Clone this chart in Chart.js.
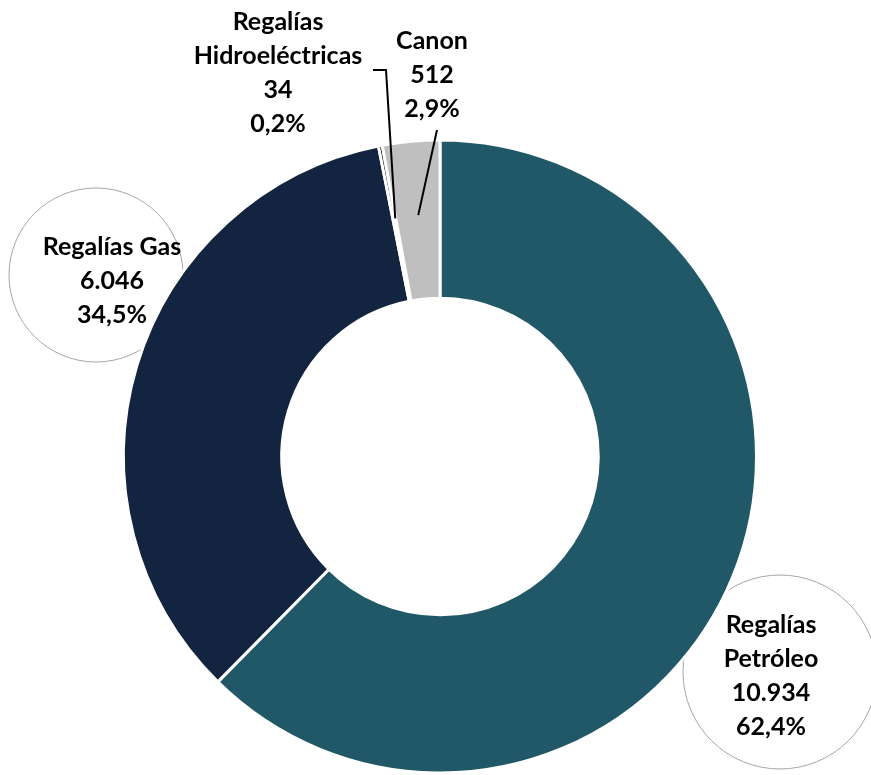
<!DOCTYPE html>
<html>
<head>
<meta charset="utf-8">
<script src="https://cdn.jsdelivr.net/npm/chart.js@4"></script>
<style>
	html, body { margin: 0; padding: 0; background: #fff; }
	#wrap { width: 871px; height: 775px; }
</style>
</head>
<body>
<div id="wrap"><canvas id="chart" width="871" height="775"></canvas></div>
<script>
// Data
const categories = ['Regalías Petróleo', 'Regalías Gas', 'Regalías Hidroeléctricas', 'Canon']
const values = [10934, 6046, 34, 512]
const colors = ['#215868', '#12243f', '#000000', '#bfbfbf']

// label text lines (category name split as in the picture)
const nameLines = [['Regalías', 'Petróleo'], ['Regalías Gas'], ['Regalías', 'Hidroeléctricas'], ['Canon']]

const total = values.reduce((a, b) => a + b, 0)
const fmtNum = (v) => v.toLocaleString('es-CO')
const fmtPct = (v) => (v / total * 100).toFixed(1).replace('.', ',') + '%'

// label boxes: text anchor, optional circle, optional leader line
const labelLayout = [
	{ x: 771, y: 625, circle: { x: 780, y: 672, r: 97 } },
	{ x: 112, y: 247, circle: { x: 96, y: 275, r: 87 } },
	{ x: 278, y: 22, leader: [[373, 70], [386, 70]] },
	{ x: 432, y: 41, leader: [[437, 130]] },
]

const FONT = 'bold 25px Lato'
const LINE_H = 34

const labelPlugin = {
	id: 'labelPlugin',
	beforeDatasetsDraw(chart) {
		const ctx = chart.ctx
		ctx.save()
		ctx.strokeStyle = '#a6a6a6'
		ctx.lineWidth = 1
		labelLayout.forEach((l) => {
			if (!l.circle) return
			ctx.beginPath()
			ctx.arc(l.circle.x, l.circle.y, l.circle.r, 0, Math.PI * 2)
			ctx.stroke()
		})
		ctx.restore()
	},
	afterDatasetsDraw(chart) {
		const ctx = chart.ctx
		const arcs = chart.getDatasetMeta(0).data
		ctx.save()
		ctx.font = FONT
		ctx.fillStyle = '#000'
		ctx.textAlign = 'center'
		ctx.textBaseline = 'middle'
		labelLayout.forEach((l, i) => {
			const lines = nameLines[i].concat([fmtNum(values[i]), fmtPct(values[i])])
			lines.forEach((t, k) => ctx.fillText(t, l.x, l.y + k * LINE_H))
			if (l.leader) {
				const p = arcs[i].getCenterPoint()
				ctx.strokeStyle = '#000'
				ctx.lineWidth = 2
				ctx.beginPath()
				ctx.moveTo(l.leader[0][0], l.leader[0][1])
				for (let k = 1; k < l.leader.length; k++) ctx.lineTo(l.leader[k][0], l.leader[k][1])
				ctx.lineTo(p.x, p.y - 5)
				ctx.stroke()
			}
		})
		ctx.restore()
	},
}

const config = {
	type: 'doughnut',
	data: {
		labels: categories,
		datasets: [{
			data: values,
			backgroundColor: colors,
			borderColor: '#ffffff',
			borderWidth: 3,
		}],
	},
	options: {
		responsive: false,
		animation: false,
		cutout: '50%',
		layout: {
			padding: { top: 138, bottom: 0, left: 122, right: 113 },
		},
		plugins: {
			legend: { display: false },
			tooltip: { enabled: false },
		},
	},
	plugins: [labelPlugin],
}

new Chart(document.getElementById('chart'), config)
</script>
</body>
</html>
